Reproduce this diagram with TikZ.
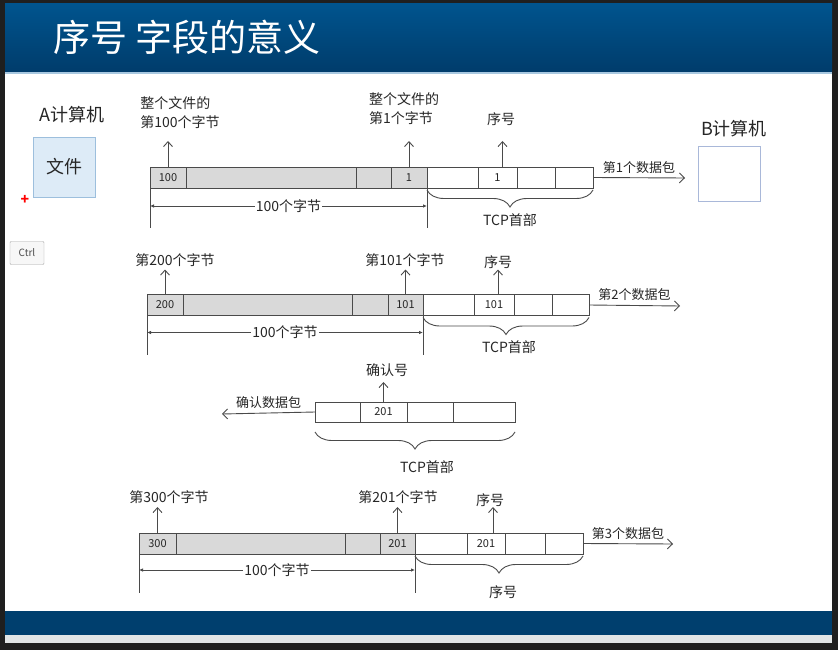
\documentclass[tikz,border=0pt]{standalone}
\usepackage{fontspec}
\setmainfont{Noto Sans CJK SC}
\usepackage{xcolor}
\usepackage{tikz}
\usetikzlibrary{positioning,arrows.meta,decorations.pathreplacing}

\definecolor{framedark}{HTML}{1F1F1F}
\definecolor{hdtop}{HTML}{00548E}
\definecolor{hdbot}{HTML}{003C6B}
\definecolor{hdline}{HTML}{A8C8E0}
\definecolor{footblue}{HTML}{003F6E}
\definecolor{footgray}{HTML}{E1E5E6}
\definecolor{barfill}{HTML}{D9D9D9}
\definecolor{linegray}{HTML}{4A4A4A}
\definecolor{txtgray}{HTML}{262626}
\definecolor{afill}{HTML}{DDEBF7}
\definecolor{aborder}{HTML}{9DBFDD}
\definecolor{bborder}{HTML}{A9B8D9}

\begin{document}
\begin{tikzpicture}[x=1pt, y=-1pt,
  every node/.style={font=\fontsize{14}{19}\selectfont, text=txtgray, inner sep=1pt},
  gcell/.style={draw=linegray, line width=0.9pt, fill=barfill, minimum height=21pt, outer sep=0pt, inner sep=0pt, font=\fontsize{11}{12}\selectfont},
  hcell/.style={gcell, fill=white},
  upar/.style={draw=linegray, line width=0.9pt, -{Straight Barb[length=5pt,width=9pt]}},
  pkar/.style={draw=linegray, line width=0.9pt, -{Straight Barb[length=5pt,width=10pt]}},
  dimar/.style={draw=linegray, line width=0.8pt, {Latex[length=4pt,width=3.5pt]}-{Latex[length=4pt,width=3.5pt]}},
  vline/.style={draw=linegray, line width=0.9pt},
  hbrace/.style={draw=linegray, line width=0.9pt, decorate, decoration={brace, mirror, amplitude=17pt}},
  pklabel/.style={font=\fontsize{13}{15}\selectfont}]
\useasboundingbox (0,0) rectangle (838,650);
% fond de la diapositive
\fill[framedark] (0,0) rectangle (838,650);
\fill[white] (5,4) rectangle (832,643);
\shade[top color=hdtop, bottom color=hdbot] (5,4) rectangle (832,72);
\fill[hdline] (5,72) rectangle (832,74);
\fill[footblue] (5,611) rectangle (832,635);
\fill[footgray] (5,635) rectangle (832,643);
\node[text=white, font=\fontsize{37}{40}\selectfont, anchor=west] (title) at (52,37) {序号 字段的意义};

% A et B
\node[font=\fontsize{18}{20}\selectfont] (acomp) at (72,115) {A计算机};
\node[draw=aborder, line width=0.9pt, fill=afill, minimum width=62pt, minimum height=60pt, font=\fontsize{18}{20}\selectfont] (afile) at (64,167) {文件};
\node[text=red, font=\fontsize{14}{14}\selectfont\bfseries] (cursor) at (25,200) {+};
\node[draw=gray!70, fill=gray!6, rounded corners=1pt, minimum width=34pt, minimum height=23pt, text=gray!60!black, font=\fontsize{10}{12}\selectfont] (ctrl) at (27,253) {Ctrl};
\node[font=\fontsize{18}{20}\selectfont] (bcomp) at (734,129) {B计算机};
\node[draw=bborder, line width=0.9pt, fill=white, minimum width=62pt, minimum height=55pt] (bbox) at (729,173.5) {};

% paquet 1
\node[gcell, minimum width=36pt] (r1a) at (168,177.5) {100};
\node[gcell, minimum width=170pt, right=0pt of r1a] (r1b) {};
\node[gcell, minimum width=35pt, right=0pt of r1b] (r1c) {};
\node[gcell, minimum width=36pt, right=0pt of r1c] (r1d) {1};
\node[hcell, minimum width=51pt, right=0pt of r1d] (h1a) {};
\node[hcell, minimum width=39pt, right=0pt of h1a] (h1b) {1};
\node[hcell, minimum width=38pt, right=0pt of h1b] (h1c) {};
\node[hcell, minimum width=38pt, right=0pt of h1c] (h1d) {};
\node[align=left] (l1a) at (180,113) {整个文件的\\第100个字节};
\node[align=left] (l1d) at (404,109) {整个文件的\\第1个字节};
\node (l1h) at (501,119) {序号};
\draw[upar] (r1a.north) -- ++(0,-26);
\draw[upar] (r1d.north) -- ++(0,-26);
\draw[upar] ([xshift=5pt]h1b.north) -- ++(0,-26);
\coordinate (pk1) at (685,178);
\draw[pkar] (h1d.east) -- (pk1) node[pklabel, midway, above=3pt] (n1) {第1个数据包};
\draw[vline] (r1a.south west) -- ++(0,40);
\draw[vline] (r1d.south east) -- ++(0,40);
\draw[dimar] ([yshift=-18pt]r1a.south west) -- ([yshift=-18pt]r1d.south east) node[midway, fill=white] (w1) {100个字节};
\draw[hbrace] ([yshift=-2pt]h1a.south west) -- ([yshift=-2pt]h1d.south east);
\node (tcp1) at (510,220) {TCP首部};

% paquet 2
\node[gcell, minimum width=36pt] (r2a) at (165,305) {200};
\node[gcell, minimum width=169pt, right=0pt of r2a] (r2b) {};
\node[gcell, minimum width=36pt, right=0pt of r2b] (r2c) {};
\node[gcell, minimum width=35pt, right=0pt of r2c] (r2d) {101};
\node[hcell, minimum width=51pt, right=0pt of r2d] (h2a) {};
\node[hcell, minimum width=40pt, right=0pt of h2a] (h2b) {101};
\node[hcell, minimum width=38pt, right=0pt of h2b] (h2c) {};
\node[hcell, minimum width=37pt, right=0pt of h2c] (h2d) {};
\node (l2a) at (175,260) {第200个字节};
\node (l2d) at (405,260) {第101个字节};
\node (l2h) at (498,262) {序号};
\draw[upar] (r2a.north) -- ++(0,-25);
\draw[upar] (r2d.north) -- ++(0,-25);
\draw[upar] ([xshift=4pt]h2b.north) -- ++(0,-25);
\coordinate (pk2) at (680,306);
\draw[pkar] (h2d.east) -- (pk2) node[pklabel, midway, above=3pt] (n2) {第2个数据包};
\draw[vline] (r2a.south west) -- ++(0,39);
\draw[vline] (r2d.south east) -- ++(0,39);
\draw[dimar] ([yshift=-17pt]r2a.south west) -- ([yshift=-17pt]r2d.south east) node[midway, fill=white] (w2) {100个字节};
\draw[hbrace] ([yshift=-2pt]h2a.south west) -- ([yshift=-2pt]h2d.south east);
\node (tcp2) at (509,347) {TCP首部};

% 确认数据包
\node[hcell, minimum width=45pt, minimum height=20pt] (k1) at (337.5,412) {};
\node[hcell, minimum width=47pt, minimum height=20pt, right=0pt of k1] (k2) {201};
\node[hcell, minimum width=46pt, minimum height=20pt, right=0pt of k2] (k3) {};
\node[hcell, minimum width=62pt, minimum height=20pt, right=0pt of k3] (k4) {};
\node (lk) at (387,370) {确认号};
\draw[upar] (k2.north) -- ++(0,-20);
\coordinate (ack) at (222,414);
\draw[pkar] (k1.west) -- (ack) node[pklabel, midway, above=3pt] (nk) {确认数据包};
\draw[hbrace] ([yshift=-10pt]k1.south west) -- ([yshift=-10pt]k4.south east);
\node (tcpk) at (427,467) {TCP首部};

% paquet 3
\node[gcell, minimum width=37pt] (r3a) at (157.5,543.5) {300};
\node[gcell, minimum width=169pt, right=0pt of r3a] (r3b) {};
\node[gcell, minimum width=35pt, right=0pt of r3b] (r3c) {};
\node[gcell, minimum width=35pt, right=0pt of r3c] (r3d) {201};
\node[hcell, minimum width=52pt, right=0pt of r3d] (h3a) {};
\node[hcell, minimum width=38pt, right=0pt of h3a] (h3b) {201};
\node[hcell, minimum width=40pt, right=0pt of h3b] (h3c) {};
\node[hcell, minimum width=38pt, right=0pt of h3c] (h3d) {};
\node (l3a) at (169,497) {第300个字节};
\node (l3d) at (398,497) {第201个字节};
\node (l3h) at (490,500) {序号};
\draw[upar] (r3a.north) -- ++(0,-26);
\draw[upar] (r3d.north) -- ++(0,-26);
\draw[upar] ([xshift=7pt]h3b.north) -- ++(0,-26);
\coordinate (pk3) at (673,544);
\draw[pkar] (h3d.east) -- (pk3) node[pklabel, midway, above=3pt] (n3) {第3个数据包};
\draw[vline] (r3a.south west) -- ++(0,39);
\draw[vline] (r3d.south east) -- ++(0,39);
\draw[dimar] ([yshift=-16pt]r3a.south west) -- ([yshift=-16pt]r3d.south east) node[midway, fill=white] (w3) {100个字节};
\draw[hbrace] ([yshift=-2pt]h3a.south west) -- ([yshift=-2pt]h3d.south east);
\node (seq3) at (503,592) {序号};
\end{tikzpicture}
\end{document}
